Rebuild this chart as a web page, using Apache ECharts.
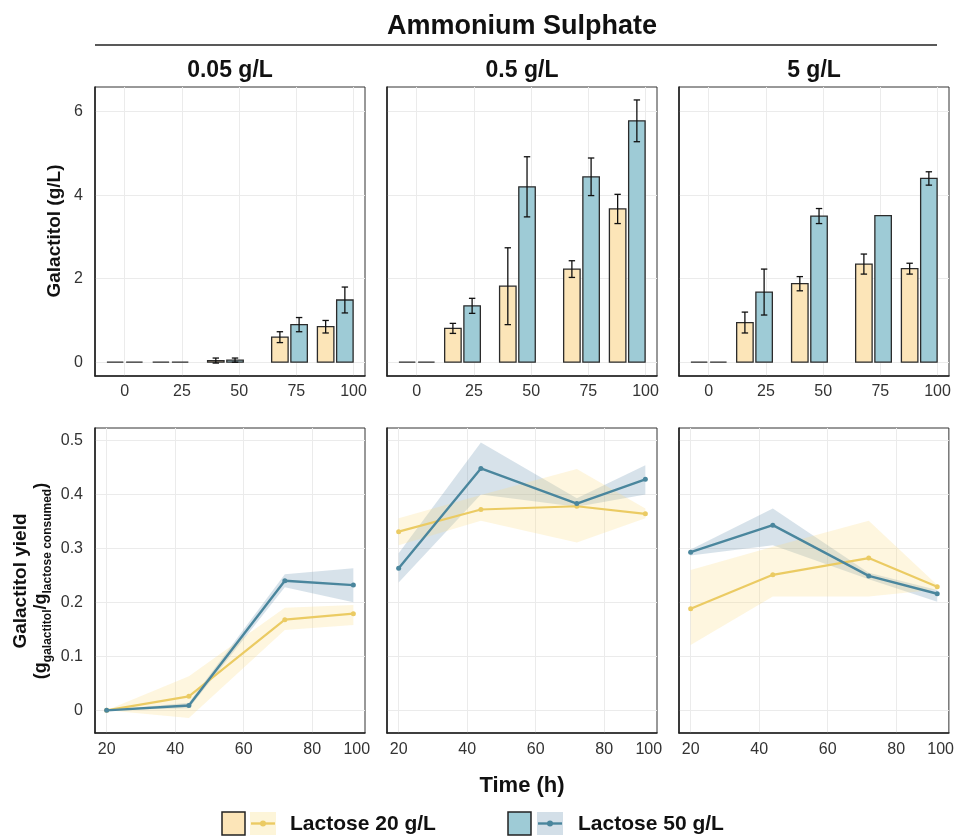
<!DOCTYPE html>
<html>
<head>
<meta charset="utf-8">
<script src="https://cdn.jsdelivr.net/npm/echarts@6/dist/echarts.min.js"></script>
<style>html,body{margin:0;padding:0;background:#fff;}#chart{width:957px;height:839px;}</style>
</head>
<body>
<div id="chart"></div>
<script>
// ---------- data ----------
const facetLabels = ['0.05 g/L', '0.5 g/L', '5 g/L'];
const barTimes = [0, 20, 44, 72, 92];
const barTickValues = [0, 25, 50, 75, 100];
const galTickValues = [0, 2, 4, 6];

// Galactitol (g/L), Lactose 20 g/L
const gal20_p1 = [0.0, 0.0, 0.04, 0.60, 0.85];
const gal20_p1_err = [0, 0, 0.06, 0.13, 0.15];
const gal20_p2 = [0.0, 0.81, 1.82, 2.23, 3.67];
const gal20_p2_err = [0, 0.12, 0.92, 0.20, 0.35];
const gal20_p3 = [0.0, 0.95, 1.88, 2.35, 2.24];
const gal20_p3_err = [0, 0.25, 0.17, 0.24, 0.13];
// Galactitol (g/L), Lactose 50 g/L
const gal50_p1 = [0.0, 0.0, 0.05, 0.90, 1.49];
const gal50_p1_err = [0, 0, 0.05, 0.17, 0.31];
const gal50_p2 = [0.0, 1.35, 4.20, 4.44, 5.78];
const gal50_p2_err = [0, 0.18, 0.72, 0.45, 0.50];
const gal50_p3 = [0.0, 1.68, 3.50, 3.51, 4.40];
const gal50_p3_err = [0, 0.55, 0.18, 0, 0.16];

const yieldTimes = [20, 44, 72, 92];
const yieldTickValues = [20, 40, 60, 80, 93];
const yieldTickLabels = ['20', '40', '60', '80', '100'];
const yieldGridValues = [20, 40, 60, 80];
const yieldYTicks = [0, 0.1, 0.2, 0.3, 0.4, 0.5];

// Galactitol yield, Lactose 20 g/L (mean, lower, upper)
const y20_p1 = [0.0, 0.026, 0.168, 0.179];
const y20_p1_lo = [0.0, -0.014, 0.149, 0.158];
const y20_p1_hi = [0.0, 0.063, 0.190, 0.195];
const y20_p2 = [0.331, 0.372, 0.378, 0.364];
const y20_p2_lo = [0.306, 0.351, 0.311, 0.356];
const y20_p2_hi = [0.356, 0.399, 0.447, 0.374];
const y20_p3 = [0.188, 0.251, 0.282, 0.229];
const y20_p3_lo = [0.121, 0.211, 0.211, 0.224];
const y20_p3_hi = [0.260, 0.303, 0.351, 0.232];
// Galactitol yield, Lactose 50 g/L
const y50_p1 = [0.0, 0.009, 0.240, 0.232];
const y50_p1_lo = [0.0, 0.004, 0.228, 0.200];
const y50_p1_hi = [0.0, 0.014, 0.252, 0.263];
const y50_p2 = [0.263, 0.448, 0.383, 0.428];
const y50_p2_lo = [0.237, 0.400, 0.377, 0.400];
const y50_p2_hi = [0.291, 0.496, 0.393, 0.454];
const y50_p3 = [0.293, 0.343, 0.249, 0.216];
const y50_p3_lo = [0.287, 0.306, 0.243, 0.201];
const y50_p3_hi = [0.298, 0.374, 0.255, 0.223];

// ---------- styles ----------
const C20_BAR = '#FCE5B8', C50_BAR = '#9ECBD6';
const C20_LINE = '#EBCB63', C50_LINE = '#4A869D';
const C20_BAND = 'rgba(250,222,130,0.26)', C50_BAND = 'rgba(110,150,180,0.28)';
const FONT = 'Liberation Sans, Arial, sans-serif';
const GRID_C = '#ebebeb';
const lefts = [95, 387, 679];
const W = 270;

const gal20 = [gal20_p1, gal20_p2, gal20_p3], gal20e = [gal20_p1_err, gal20_p2_err, gal20_p3_err];
const gal50 = [gal50_p1, gal50_p2, gal50_p3], gal50e = [gal50_p1_err, gal50_p2_err, gal50_p3_err];
const y20 = [y20_p1, y20_p2, y20_p3], y20lo = [y20_p1_lo, y20_p2_lo, y20_p3_lo], y20hi = [y20_p1_hi, y20_p2_hi, y20_p3_hi];
const y50 = [y50_p1, y50_p2, y50_p3], y50lo = [y50_p1_lo, y50_p2_lo, y50_p3_lo], y50hi = [y50_p1_hi, y50_p2_hi, y50_p3_hi];

const BAR_W = 7.2, BAR_OFF = 4.2, CAP = 1.4;

const grids = [], xAxes = [], yAxes = [], series = [];
for (let i = 0; i < 3; i++) {
  grids.push({ left: lefts[i], top: 87, width: W, height: 289, show: true, borderColor: '#333', borderWidth: 1 });
}
for (let i = 0; i < 3; i++) {
  grids.push({ left: lefts[i], top: 428, width: W, height: 305, show: true, borderColor: '#333', borderWidth: 1 });
}
const axisLineStyle = { show: true, onZero: false, lineStyle: { color: '#222', width: 1.6 } };
for (let i = 0; i < 3; i++) {
  xAxes.push({
    type: 'value', gridIndex: i, min: -13, max: 105,
    axisLine: axisLineStyle,
    axisTick: { show: false, customValues: barTickValues },
    axisLabel: { customValues: barTickValues, fontSize: 16, color: '#333', fontFamily: FONT, margin: 8 },
    splitLine: { show: true, lineStyle: { color: GRID_C, width: 1 } }
  });
  yAxes.push({
    type: 'value', gridIndex: i, min: -0.33, max: 6.59,
    axisLine: axisLineStyle,
    axisTick: { show: false, customValues: galTickValues },
    axisLabel: { show: i === 0, customValues: galTickValues, fontSize: 16, color: '#333', fontFamily: FONT, margin: 12 },
    splitLine: { show: true, lineStyle: { color: GRID_C, width: 1 } }
  });
}
for (let i = 0; i < 3; i++) {
  xAxes.push({
    type: 'value', gridIndex: 3 + i, min: 16.6, max: 95.4,
    axisLine: axisLineStyle,
    axisTick: { show: false, customValues: yieldGridValues },
    axisLabel: { customValues: yieldTickValues, fontSize: 16, color: '#333', fontFamily: FONT, margin: 9,
      formatter: (v) => { const k = yieldTickValues.indexOf(v); return k >= 0 ? yieldTickLabels[k] : ''; } },
    splitLine: { show: true, lineStyle: { color: GRID_C, width: 1 } }
  });
  yAxes.push({
    type: 'value', gridIndex: 3 + i, min: -0.042, max: 0.523,
    axisLine: axisLineStyle,
    axisTick: { show: false, customValues: yieldYTicks },
    axisLabel: { show: i === 0, customValues: yieldYTicks, fontSize: 16, color: '#333', fontFamily: FONT, margin: 12,
      formatter: (v) => v === 0 ? '0' : v.toFixed(1) },
    splitLine: { show: true, lineStyle: { color: GRID_C, width: 1 } }
  });
}

function barRender(off, fill) {
  return function (params, api) {
    const t = api.value(0), v = api.value(1), e = api.value(2);
    const c = t + off;
    const a = api.coord([c - BAR_W / 2, 0]);
    const b = api.coord([c + BAR_W / 2, v]);
    const children = [{
      type: 'rect',
      shape: { x: a[0], y: b[1], width: b[0] - a[0], height: a[1] - b[1] },
      style: { fill: fill, stroke: '#2b2b2b', lineWidth: 1.3 }
    }];
    if (e > 0) {
      const lo = api.coord([c, v - e]), hi = api.coord([c, v + e]);
      const cl = api.coord([c - CAP, 0])[0], cr = api.coord([c + CAP, 0])[0];
      const ls = { stroke: '#111', lineWidth: 1.3 };
      children.push({ type: 'line', shape: { x1: lo[0], y1: lo[1], x2: hi[0], y2: hi[1] }, style: ls });
      children.push({ type: 'line', shape: { x1: cl, y1: lo[1], x2: cr, y2: lo[1] }, style: ls });
      children.push({ type: 'line', shape: { x1: cl, y1: hi[1], x2: cr, y2: hi[1] }, style: ls });
    }
    return { type: 'group', children: children };
  };
}

function bandRender(times, lo, hi, fill) {
  return function (params, api) {
    if (params.dataIndex !== 0) return null;
    const pts = [];
    for (let k = 0; k < times.length; k++) pts.push(api.coord([times[k], hi[k]]));
    for (let k = times.length - 1; k >= 0; k--) pts.push(api.coord([times[k], lo[k]]));
    return { type: 'polygon', shape: { points: pts }, style: { fill: fill } };
  };
}

for (let i = 0; i < 3; i++) {
  series.push({
    type: 'custom', xAxisIndex: i, yAxisIndex: i, clip: false,
    renderItem: barRender(-BAR_OFF, C20_BAR),
    encode: { x: 0, y: 1 },
    data: barTimes.map((t, k) => [t, gal20[i][k], gal20e[i][k]]), z: 3
  });
  series.push({
    type: 'custom', xAxisIndex: i, yAxisIndex: i, clip: false,
    renderItem: barRender(BAR_OFF, C50_BAR),
    encode: { x: 0, y: 1 },
    data: barTimes.map((t, k) => [t, gal50[i][k], gal50e[i][k]]), z: 3
  });
}
for (let i = 0; i < 3; i++) {
  const xi = 3 + i;
  series.push({
    type: 'custom', xAxisIndex: xi, yAxisIndex: xi,
    renderItem: bandRender(yieldTimes, y50lo[i], y50hi[i], C50_BAND),
    encode: { x: 0, y: 1 },
    data: yieldTimes.map((t, k) => [t, y50lo[i][k], y50hi[i][k]]), z: 2, silent: true
  });
  series.push({
    type: 'custom', xAxisIndex: xi, yAxisIndex: xi,
    renderItem: bandRender(yieldTimes, y20lo[i], y20hi[i], C20_BAND),
    encode: { x: 0, y: 1 },
    data: yieldTimes.map((t, k) => [t, y20lo[i][k], y20hi[i][k]]), z: 2, silent: true
  });
  series.push({
    type: 'line', xAxisIndex: xi, yAxisIndex: xi, z: 4,
    data: yieldTimes.map((t, k) => [t, y20[i][k]]),
    symbol: 'circle', symbolSize: 5, showSymbol: true,
    lineStyle: { color: C20_LINE, width: 2.2 }, itemStyle: { color: C20_LINE }
  });
  series.push({
    type: 'line', xAxisIndex: xi, yAxisIndex: xi, z: 5,
    data: yieldTimes.map((t, k) => [t, y50[i][k]]),
    symbol: 'circle', symbolSize: 5, showSymbol: true,
    lineStyle: { color: C50_LINE, width: 2.4 }, itemStyle: { color: C50_LINE }
  });
}

const boldTitle = (txt, x, y, size, extra) => Object.assign({
  type: 'text', x: x, y: y,
  style: { text: txt, fontFamily: FONT, fontWeight: 'bold', fontSize: size, fill: '#111', align: 'center', verticalAlign: 'middle' }
}, extra || {});

const graphic = [
  boldTitle('Ammonium Sulphate', 522, 27, 27),
  { type: 'line', shape: { x1: 95, y1: 45, x2: 937, y2: 45 }, style: { stroke: '#222', lineWidth: 1.3 } },
  boldTitle(facetLabels[0], lefts[0] + W / 2, 71, 23),
  boldTitle(facetLabels[1], lefts[1] + W / 2, 71, 23),
  boldTitle(facetLabels[2], lefts[2] + W / 2, 71, 23),
  boldTitle('Galactitol (g/L)', 55, 231, 19, { rotation: Math.PI / 2 }),
  boldTitle('Galactitol yield', 21, 581, 19, { rotation: Math.PI / 2 }),
  {
    type: 'text', x: 41, y: 581, rotation: Math.PI / 2,
    style: {
      text: '{b|(g}{s|galactitol}{b|/g}{s|lactose consumed}{b|)}',
      align: 'center', verticalAlign: 'middle', fill: '#111',
      rich: {
        b: { fontFamily: FONT, fontWeight: 'bold', fontSize: 18, fill: '#111', verticalAlign: 'bottom' },
        s: { fontFamily: FONT, fontWeight: 'bold', fontSize: 12, fill: '#111', verticalAlign: 'bottom', padding: [0, 0, -4, 0] }
      }
    }
  },
  boldTitle('Time (h)', 522, 786, 22),
  // legend
  { type: 'rect', shape: { x: 222, y: 812, width: 23, height: 23 }, style: { fill: C20_BAR, stroke: '#222', lineWidth: 1.5 } },
  { type: 'rect', shape: { x: 250, y: 812, width: 26, height: 23 }, style: { fill: 'rgba(250,222,130,0.30)' } },
  { type: 'line', shape: { x1: 251, y1: 823.5, x2: 275, y2: 823.5 }, style: { stroke: C20_LINE, lineWidth: 2.4 } },
  { type: 'circle', shape: { cx: 263, cy: 823.5, r: 3 }, style: { fill: C20_LINE } },
  { type: 'text', x: 290, y: 824, style: { text: 'Lactose 20 g/L', fontFamily: FONT, fontWeight: 'bold', fontSize: 21, fill: '#111', verticalAlign: 'middle' } },
  { type: 'rect', shape: { x: 508, y: 812, width: 23, height: 23 }, style: { fill: C50_BAR, stroke: '#222', lineWidth: 1.5 } },
  { type: 'rect', shape: { x: 537, y: 812, width: 26, height: 23 }, style: { fill: 'rgba(110,150,180,0.30)' } },
  { type: 'line', shape: { x1: 538, y1: 823.5, x2: 562, y2: 823.5 }, style: { stroke: C50_LINE, lineWidth: 2.4 } },
  { type: 'circle', shape: { cx: 550, cy: 823.5, r: 3 }, style: { fill: C50_LINE } },
  { type: 'text', x: 578, y: 824, style: { text: 'Lactose 50 g/L', fontFamily: FONT, fontWeight: 'bold', fontSize: 21, fill: '#111', verticalAlign: 'middle' } }
];

const chart = echarts.init(document.getElementById('chart'), null, { renderer: 'canvas' });
chart.setOption({
  backgroundColor: '#fff',
  animation: false,
  grid: grids, xAxis: xAxes, yAxis: yAxes, series: series, graphic: graphic
});
</script>
</body>
</html>
